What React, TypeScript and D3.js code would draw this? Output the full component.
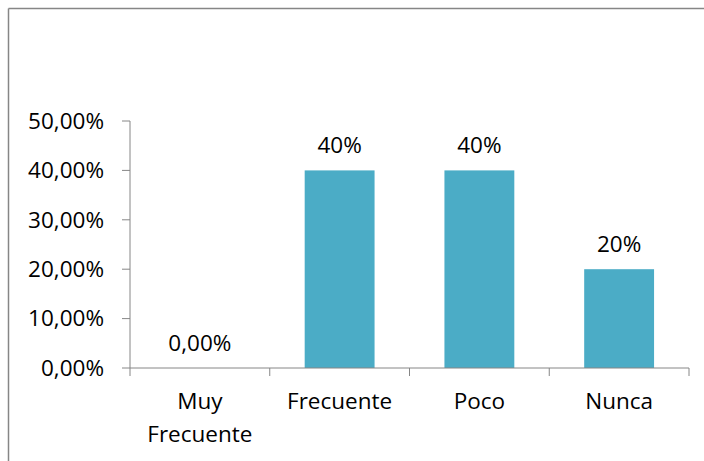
import React from "react";
import * as d3 from "d3";

const categories = ["Muy Frecuente", "Frecuente", "Poco", "Nunca"];
const categoryLines = [["Muy", "Frecuente"], ["Frecuente"], ["Poco"], ["Nunca"]];
const values = [0, 0.4, 0.4, 0.2];
const valueLabels = ["0,00%", "40%", "40%", "20%"];
const yTicks = [0, 0.1, 0.2, 0.3, 0.4, 0.5];
const yTickLabels = ["0,00%", "10,00%", "20,00%", "30,00%", "40,00%", "50,00%"];

export default function App() {
  const W = 704, H = 461;
  const left = 130, right = 689, top = 121, bottom = 368;
  const y = d3.scaleLinear().domain([0, 0.5]).range([bottom, top]);
  const x = d3.scaleBand().domain(categories).range([left, right]).paddingInner(0.5).paddingOuter(0.25);
  const step = (right - left) / categories.length;
  const font = "'Open Sans', sans-serif";
  const axisColor = "#868686";
  const fs = 22.5;
  return (
    <svg width={W} height={H} style={{ position: "absolute", left: 0, top: 0, background: "#fff" }} fontFamily={font}>
      <line x1={8.5} y1={8.5} x2={W} y2={8.5} stroke={axisColor} strokeWidth={1.5} />
      <line x1={8.5} y1={8.5} x2={8.5} y2={H} stroke={axisColor} strokeWidth={1.5} />
      {values.map((v, i) => (
        <rect key={i} x={x(categories[i])!} y={y(v)} width={x.bandwidth()} height={bottom - y(v)} fill="#4BACC6" />
      ))}
      <line x1={left} y1={top} x2={left} y2={bottom} stroke={axisColor} />
      <line x1={left} y1={bottom} x2={right} y2={bottom} stroke={axisColor} />
      {yTicks.map((t, i) => (
        <g key={i}>
          <line x1={left - 8} x2={left} y1={y(t)} y2={y(t)} stroke={axisColor} />
          <text x={104} y={y(t)} dy="0.35em" textAnchor="end" fontSize={fs} fill="#000">{yTickLabels[i]}</text>
        </g>
      ))}
      {d3.range(categories.length + 1).map((i) => (
        <line key={i} x1={left + i * step} x2={left + i * step} y1={bottom} y2={bottom + 8} stroke={axisColor} />
      ))}
      {categories.map((c, i) => (
        <text key={c} textAnchor="middle" fontSize={fs} fill="#000">
          {categoryLines[i].map((ln, j) => (
            <tspan key={j} x={x(c)! + x.bandwidth() / 2} y={401 + j * 33} dy="0.35em">{ln}</tspan>
          ))}
        </text>
      ))}
      {values.map((v, i) => (
        <text key={i} x={x(categories[i])! + x.bandwidth() / 2} y={y(v) - 25} dy="0.35em" textAnchor="middle" fontSize={fs} fill="#000">
          {valueLabels[i]}
        </text>
      ))}
    </svg>
  );
}
